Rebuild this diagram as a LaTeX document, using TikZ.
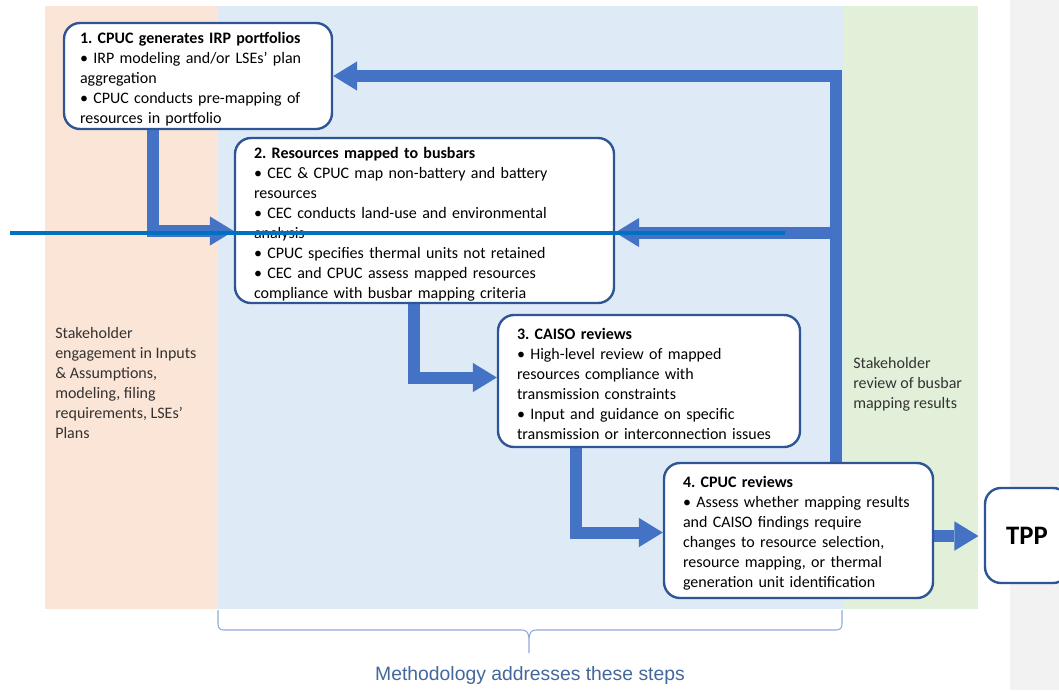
\documentclass[tikz,border=0pt]{standalone}
\usepackage{fontspec}
\setmainfont{Carlito}
\newfontfamily\arialfont{Liberation Sans}
\usetikzlibrary{arrows.meta}
\definecolor{peach}{HTML}{FBE5D6}
\definecolor{lblue}{HTML}{DEEBF7}
\definecolor{lgreen}{HTML}{E2F0D9}
\definecolor{lgray}{HTML}{F2F2F2}
\definecolor{boxedge}{HTML}{2F5597}
\definecolor{arrowfill}{HTML}{4472C4}
\definecolor{hline}{HTML}{0070C0}
\definecolor{bracec}{HTML}{8FAADC}
\definecolor{methc}{HTML}{44679C}
\definecolor{sidetext}{HTML}{333333}
\pgfdeclarelayer{back}
\pgfdeclarelayer{arrowlayer}
\pgfdeclarelayer{front}
\pgfsetlayers{back,arrowlayer,main,front}
\newcommand\topgap{\rule{0pt}{13pt}}
\frenchspacing
\begin{document}
\begin{tikzpicture}[x=0.75pt,y=-0.75pt,
  stepbox/.style={draw=boxedge, line width=1.8pt, fill=white, rounded corners=12pt,
    align=left, inner xsep=14.25pt, inner ysep=0pt,
    font=\fontsize{12}{15}\selectfont, anchor=center},
  flow/.style={draw=arrowfill, line width=9pt, line join=miter, line cap=butt,
    -{Triangle[width=22pt,length=18pt,line width=0pt]}},
  sidelabel/.style={anchor=north west, inner sep=0pt, align=left, text=sidetext,
    font=\fontsize{12}{15}\selectfont}]
\useasboundingbox (0,0) rectangle (1059,690);

% backgrounds
\begin{pgfonlayer}{back}
  \fill[white] (0,0) rectangle (1059,690);
  \fill[peach] (45,6) rectangle (218,609);
  \fill[lblue] (218,6) rectangle (843,609);
  \fill[lgreen] (843,6) rectangle (978,609);
  \fill[lgray] (1010,0) rectangle (1059,690);
\end{pgfonlayer}

% step boxes
\node[stepbox, inner xsep=12pt, minimum width=201pt, minimum height=79.5pt, text width=177pt] (b1) at (198,76)
 {\topgap\textbf{1. CPUC generates IRP portfolios}\\
  • IRP modeling and/or LSEs’ plan\\
  aggregation\\
  • CPUC conducts pre-mapping of\\
  resources in portfolio};

\node[stepbox, minimum width=284.25pt, minimum height=123.75pt, text width=255.75pt] (b2) at (424.5,220.5)
 {\rule{0pt}{14.5pt}\textbf{2. Resources mapped to busbars}\\
  • CEC \& CPUC map non-battery and battery\\
  resources\\
  • CEC conducts land-use and environmental\\
  analysis\\
  • CPUC specifies thermal units not retained\\
  • CEC and CPUC assess mapped resources\\
  compliance with busbar mapping criteria};

\node[stepbox, minimum width=226.5pt, minimum height=99pt, text width=198pt] (b3) at (649,381)
 {\topgap\textbf{3. CAISO reviews}\\
  • High-level review of mapped\\
  resources compliance with\\
  transmission constraints\\
  • Input and guidance on specific\\
  transmission or interconnection issues};

\node[stepbox, minimum width=201.75pt, minimum height=101.25pt, text width=173.25pt] (b4) at (798.5,530.5)
 {\topgap\textbf{4. CPUC reviews}\\
  • Assess whether mapping results\\
  and CAISO findings require\\
  changes to resource selection,\\
  resource mapping, or thermal\\
  generation unit identification};

\node[stepbox, align=center, inner xsep=0pt, minimum width=63pt, minimum height=71.25pt,
      font=\fontsize{20}{24}\selectfont\bfseries] (tpp) at (1027,535.5) {TPP};

% side labels
\node[sidelabel] (leftlab) at (55,327)
 {Stakeholder\\engagement in Inputs\\\& Assumptions,\\modeling, filing\\requirements, LSEs’\\Plans};
\node[sidelabel] (rightlab) at (853,357)
 {Stakeholder\\review of busbar\\mapping results};

% methodology brace and label
\node[text=methc, font=\arialfont\fontsize{14.5}{17}\selectfont, inner sep=0pt] (meth) at (530,675)
 {Methodology addresses these steps};
\draw[bracec, line width=0.8pt]
  (218,610) -- (218,624) .. controls (218,628) and (220,630) .. (224,630) -- (522,630)
  .. controls (527,630) and (529,633) .. (529,640) -- (529,653)
  (529,640) .. controls (529,633) and (531,630) .. (536,630) -- (836,630)
  .. controls (840,630) and (842,628) .. (842,624) -- (842,610);

% connectors
\coordinate (a1) at (153,231);
\coordinate (a2) at (414,377.5);
\coordinate (a3) at (575.5,532.5);
\coordinate (a4) at (950,536);
\coordinate (fb) at (836,232.5);
\begin{pgfonlayer}{arrowlayer}
  \draw[flow] (b1.south -| a1) |- (b2.west |- a1);
  \draw[flow] (b2.south -| a2) |- (b3.west |- a2);
  \draw[flow] (b3.south -| a3) |- (b4.west |- a3);
  \draw[flow, shorten >=4pt] (b4.east |- a4) -- (tpp.west |- a4);
  \draw[flow] (b4.north -| fb) |- (b1.east);
  \draw[flow] (fb) -- (b2.east |- fb);
\end{pgfonlayer}

% stray blue rule across the figure
\coordinate (r1) at (10,233);
\coordinate (r2) at (785,233);
\begin{pgfonlayer}{front}
  \draw[hline, line width=2.7pt] (r1) -- (r2);
\end{pgfonlayer}
\end{tikzpicture}
\end{document}
